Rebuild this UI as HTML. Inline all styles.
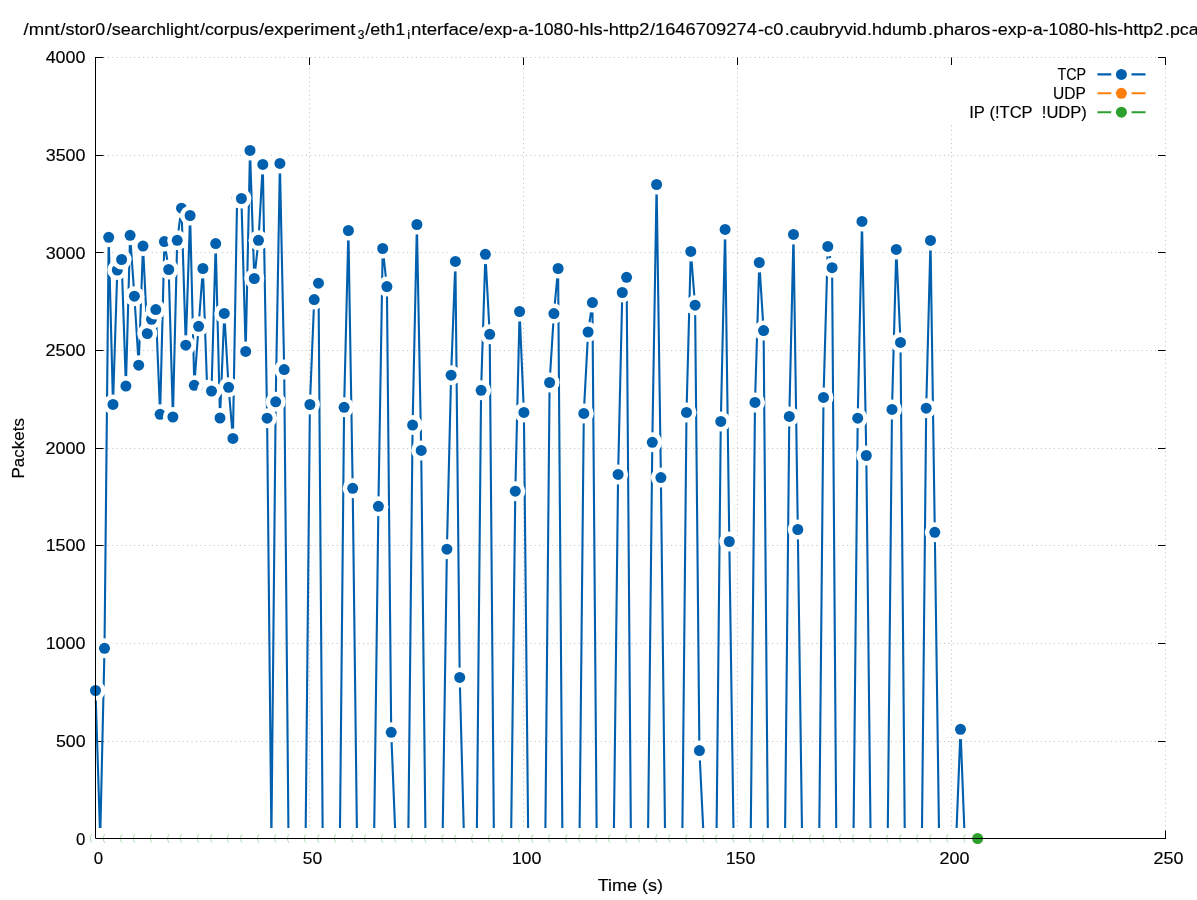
<!DOCTYPE html>
<html><head><meta charset="utf-8"><title>plot</title>
<style>html,body{margin:0;padding:0;background:#fff}svg{display:block;will-change:transform}text{font-family:"Liberation Sans",sans-serif;fill:#000;stroke:#000;stroke-width:0.15px}</style></head>
<body>
<svg width="1197" height="900" viewBox="0 0 1197 900">
<rect width="1197" height="900" fill="#fff"/>
<g stroke="#bcbcbc" stroke-width="1" stroke-dasharray="1 3.4" fill="none">
<path d="M103.5 741.5H1165.5"/><path d="M103.5 643.5H1165.5"/><path d="M103.5 545.5H1165.5"/><path d="M103.5 448.5H1165.5"/><path d="M103.5 350.5H1165.5"/><path d="M103.5 252.5H1165.5"/><path d="M103.5 155.5H1165.5"/><path d="M103.5 57.5H1165.5"/><path d="M309.5 830.5V57.5"/><path d="M523.5 830.5V57.5"/><path d="M737.5 830.5V57.5"/><path d="M951.5 830.5V57.5"/><path d="M1165.5 830.5V57.5"/>
</g>
<g stroke="#000" stroke-width="1" fill="none">
<path d="M95.5 838.5h8M1165.5 838.5h-7.5"/><path d="M95.5 741.5h8M1165.5 741.5h-7.5"/><path d="M95.5 643.5h8M1165.5 643.5h-7.5"/><path d="M95.5 545.5h8M1165.5 545.5h-7.5"/><path d="M95.5 448.5h8M1165.5 448.5h-7.5"/><path d="M95.5 350.5h8M1165.5 350.5h-7.5"/><path d="M95.5 252.5h8M1165.5 252.5h-7.5"/><path d="M95.5 155.5h8M1165.5 155.5h-7.5"/><path d="M95.5 57.5h8M1165.5 57.5h-7.5"/><path d="M95.5 838.5v-8M95.5 57.5v7.5"/><path d="M309.5 838.5v-8M309.5 57.5v7.5"/><path d="M523.5 838.5v-8M523.5 57.5v7.5"/><path d="M737.5 838.5v-8M737.5 57.5v7.5"/><path d="M951.5 838.5v-8M951.5 57.5v7.5"/><path d="M1165.5 838.5v-8M1165.5 57.5v7.5"/>
</g>
<polyline fill="none" stroke="#0060ad" stroke-width="2.10" stroke-linejoin="miter" stroke-miterlimit="2" points="95.5,690.5 100.2,838.5 104.5,648.3 108.7,237.3 113.0,404.4 117.3,270.0 121.6,259.5 125.9,386.1 130.1,235.3 134.4,296.2 138.7,365.2 143.0,246.1 147.3,333.5 151.5,319.3 155.8,309.6 160.1,414.3 164.4,241.6 168.7,269.5 172.9,417.0 177.2,240.3 181.5,208.2 185.8,345.2 190.1,215.5 194.3,385.3 198.6,326.3 202.9,268.5 207.2,389.8 211.5,391.1 215.7,243.6 220.0,418.0 224.3,313.4 228.6,387.3 232.9,438.4 237.1,198.0 241.4,198.5 245.7,351.4 250.0,150.4 254.3,278.5 258.5,240.3 262.8,164.4 267.1,418.2 271.4,838.5 275.7,401.8 279.9,163.4 284.2,369.6 288.5,838.5 292.8,838.5 297.1,838.5 301.3,838.5 305.6,838.5 309.9,404.5 314.2,299.6 318.5,283.2 322.7,838.5 327.0,838.5 331.3,838.5 335.6,838.5 339.9,838.5 344.1,407.3 348.4,230.5 352.7,488.3 357.0,838.5 361.3,838.5 365.5,838.5 369.8,838.5 374.1,838.5 378.4,506.3 382.7,248.5 386.9,286.6 391.2,732.3 395.5,838.5 399.8,838.5 404.1,838.5 408.3,838.5 412.6,425.1 416.9,224.5 421.2,450.4 425.5,838.5 429.7,838.5 434.0,838.5 438.3,838.5 442.6,838.5 446.9,549.2 451.1,375.2 455.4,261.4 459.7,677.4 464.0,838.5 468.3,838.5 472.5,838.5 476.8,838.5 481.1,390.3 485.4,254.3 489.7,334.3 493.9,838.5 498.2,838.5 502.5,838.5 506.8,838.5 511.1,838.5 515.3,491.2 519.6,311.5 523.9,412.4 528.2,838.5 532.5,838.5 536.7,838.5 541.0,838.5 545.3,838.5 549.6,382.5 553.9,313.6 558.1,268.5 562.4,838.5 566.7,838.5 571.0,838.5 575.3,838.5 579.5,838.5 583.8,413.4 588.1,332.0 592.4,302.6 596.7,838.5 600.9,838.5 605.2,838.5 609.5,838.5 613.8,838.5 618.1,474.4 622.3,292.5 626.6,277.3 630.9,838.5 635.2,838.5 639.5,838.5 643.7,838.5 648.0,838.5 652.3,442.3 656.6,184.5 660.9,477.6 665.1,838.5 669.4,838.5 673.7,838.5 678.0,838.5 682.3,838.5 686.5,412.4 690.8,251.4 695.1,305.2 699.4,750.6 703.7,838.5 707.9,838.5 712.2,838.5 716.5,838.5 720.8,421.4 725.1,229.4 729.3,541.5 733.6,838.5 737.9,838.5 742.2,838.5 746.5,838.5 750.7,838.5 755.0,402.4 759.3,262.5 763.6,330.6 767.9,838.5 772.1,838.5 776.4,838.5 780.7,838.5 785.0,838.5 789.3,416.4 793.5,234.4 797.8,529.5 802.1,838.5 806.4,838.5 810.7,838.5 814.9,838.5 819.2,838.5 823.5,397.4 827.8,246.4 832.1,267.7 836.3,838.5 840.6,838.5 844.9,838.5 849.2,838.5 853.5,838.5 857.7,418.2 862.0,221.4 866.3,455.5 870.6,838.5 874.9,838.5 879.1,838.5 883.4,838.5 887.7,838.5 892.0,409.4 896.3,249.4 900.5,342.4 904.8,838.5 909.1,838.5 913.4,838.5 917.7,838.5 921.9,838.5 926.2,408.2 930.5,240.4 934.8,532.3 939.1,838.5 943.3,838.5 947.6,838.5 951.9,838.5 956.2,838.5 960.5,729.3 964.7,838.5 969.0,838.5 973.3,838.5 977.6,838.5"/>
<g>
<circle cx="95.5" cy="690.5" r="10.0" fill="#fff"/><circle cx="95.5" cy="690.5" r="5.50" fill="#0060ad"/>
<circle cx="104.5" cy="648.3" r="10.0" fill="#fff"/><circle cx="104.5" cy="648.3" r="5.50" fill="#0060ad"/>
<circle cx="108.7" cy="237.3" r="10.0" fill="#fff"/><circle cx="108.7" cy="237.3" r="5.50" fill="#0060ad"/>
<circle cx="113.0" cy="404.4" r="10.0" fill="#fff"/><circle cx="113.0" cy="404.4" r="5.50" fill="#0060ad"/>
<circle cx="117.3" cy="270.0" r="10.0" fill="#fff"/><circle cx="117.3" cy="270.0" r="5.50" fill="#0060ad"/>
<circle cx="121.6" cy="259.5" r="10.0" fill="#fff"/><circle cx="121.6" cy="259.5" r="5.50" fill="#0060ad"/>
<circle cx="125.9" cy="386.1" r="10.0" fill="#fff"/><circle cx="125.9" cy="386.1" r="5.50" fill="#0060ad"/>
<circle cx="130.1" cy="235.3" r="10.0" fill="#fff"/><circle cx="130.1" cy="235.3" r="5.50" fill="#0060ad"/>
<circle cx="134.4" cy="296.2" r="10.0" fill="#fff"/><circle cx="134.4" cy="296.2" r="5.50" fill="#0060ad"/>
<circle cx="138.7" cy="365.2" r="10.0" fill="#fff"/><circle cx="138.7" cy="365.2" r="5.50" fill="#0060ad"/>
<circle cx="143.0" cy="246.1" r="10.0" fill="#fff"/><circle cx="143.0" cy="246.1" r="5.50" fill="#0060ad"/>
<circle cx="147.3" cy="333.5" r="10.0" fill="#fff"/><circle cx="147.3" cy="333.5" r="5.50" fill="#0060ad"/>
<circle cx="151.5" cy="319.3" r="10.0" fill="#fff"/><circle cx="151.5" cy="319.3" r="5.50" fill="#0060ad"/>
<circle cx="155.8" cy="309.6" r="10.0" fill="#fff"/><circle cx="155.8" cy="309.6" r="5.50" fill="#0060ad"/>
<circle cx="160.1" cy="414.3" r="10.0" fill="#fff"/><circle cx="160.1" cy="414.3" r="5.50" fill="#0060ad"/>
<circle cx="164.4" cy="241.6" r="10.0" fill="#fff"/><circle cx="164.4" cy="241.6" r="5.50" fill="#0060ad"/>
<circle cx="168.7" cy="269.5" r="10.0" fill="#fff"/><circle cx="168.7" cy="269.5" r="5.50" fill="#0060ad"/>
<circle cx="172.9" cy="417.0" r="10.0" fill="#fff"/><circle cx="172.9" cy="417.0" r="5.50" fill="#0060ad"/>
<circle cx="177.2" cy="240.3" r="10.0" fill="#fff"/><circle cx="177.2" cy="240.3" r="5.50" fill="#0060ad"/>
<circle cx="181.5" cy="208.2" r="10.0" fill="#fff"/><circle cx="181.5" cy="208.2" r="5.50" fill="#0060ad"/>
<circle cx="185.8" cy="345.2" r="10.0" fill="#fff"/><circle cx="185.8" cy="345.2" r="5.50" fill="#0060ad"/>
<circle cx="190.1" cy="215.5" r="10.0" fill="#fff"/><circle cx="190.1" cy="215.5" r="5.50" fill="#0060ad"/>
<circle cx="194.3" cy="385.3" r="10.0" fill="#fff"/><circle cx="194.3" cy="385.3" r="5.50" fill="#0060ad"/>
<circle cx="198.6" cy="326.3" r="10.0" fill="#fff"/><circle cx="198.6" cy="326.3" r="5.50" fill="#0060ad"/>
<circle cx="202.9" cy="268.5" r="10.0" fill="#fff"/><circle cx="202.9" cy="268.5" r="5.50" fill="#0060ad"/>
<circle cx="207.2" cy="389.8" r="10.0" fill="#fff"/><circle cx="207.2" cy="389.8" r="5.50" fill="#0060ad"/>
<circle cx="211.5" cy="391.1" r="10.0" fill="#fff"/><circle cx="211.5" cy="391.1" r="5.50" fill="#0060ad"/>
<circle cx="215.7" cy="243.6" r="10.0" fill="#fff"/><circle cx="215.7" cy="243.6" r="5.50" fill="#0060ad"/>
<circle cx="220.0" cy="418.0" r="10.0" fill="#fff"/><circle cx="220.0" cy="418.0" r="5.50" fill="#0060ad"/>
<circle cx="224.3" cy="313.4" r="10.0" fill="#fff"/><circle cx="224.3" cy="313.4" r="5.50" fill="#0060ad"/>
<circle cx="228.6" cy="387.3" r="10.0" fill="#fff"/><circle cx="228.6" cy="387.3" r="5.50" fill="#0060ad"/>
<circle cx="232.9" cy="438.4" r="10.0" fill="#fff"/><circle cx="232.9" cy="438.4" r="5.50" fill="#0060ad"/>
<circle cx="237.1" cy="198.0" r="10.0" fill="#fff"/><circle cx="237.1" cy="198.0" r="5.50" fill="#0060ad"/>
<circle cx="241.4" cy="198.5" r="10.0" fill="#fff"/><circle cx="241.4" cy="198.5" r="5.50" fill="#0060ad"/>
<circle cx="245.7" cy="351.4" r="10.0" fill="#fff"/><circle cx="245.7" cy="351.4" r="5.50" fill="#0060ad"/>
<circle cx="250.0" cy="150.4" r="10.0" fill="#fff"/><circle cx="250.0" cy="150.4" r="5.50" fill="#0060ad"/>
<circle cx="254.3" cy="278.5" r="10.0" fill="#fff"/><circle cx="254.3" cy="278.5" r="5.50" fill="#0060ad"/>
<circle cx="258.5" cy="240.3" r="10.0" fill="#fff"/><circle cx="258.5" cy="240.3" r="5.50" fill="#0060ad"/>
<circle cx="262.8" cy="164.4" r="10.0" fill="#fff"/><circle cx="262.8" cy="164.4" r="5.50" fill="#0060ad"/>
<circle cx="267.1" cy="418.2" r="10.0" fill="#fff"/><circle cx="267.1" cy="418.2" r="5.50" fill="#0060ad"/>
<circle cx="275.7" cy="401.8" r="10.0" fill="#fff"/><circle cx="275.7" cy="401.8" r="5.50" fill="#0060ad"/>
<circle cx="279.9" cy="163.4" r="10.0" fill="#fff"/><circle cx="279.9" cy="163.4" r="5.50" fill="#0060ad"/>
<circle cx="284.2" cy="369.6" r="10.0" fill="#fff"/><circle cx="284.2" cy="369.6" r="5.50" fill="#0060ad"/>
<circle cx="309.9" cy="404.5" r="10.0" fill="#fff"/><circle cx="309.9" cy="404.5" r="5.50" fill="#0060ad"/>
<circle cx="314.2" cy="299.6" r="10.0" fill="#fff"/><circle cx="314.2" cy="299.6" r="5.50" fill="#0060ad"/>
<circle cx="318.5" cy="283.2" r="10.0" fill="#fff"/><circle cx="318.5" cy="283.2" r="5.50" fill="#0060ad"/>
<circle cx="344.1" cy="407.3" r="10.0" fill="#fff"/><circle cx="344.1" cy="407.3" r="5.50" fill="#0060ad"/>
<circle cx="348.4" cy="230.5" r="10.0" fill="#fff"/><circle cx="348.4" cy="230.5" r="5.50" fill="#0060ad"/>
<circle cx="352.7" cy="488.3" r="10.0" fill="#fff"/><circle cx="352.7" cy="488.3" r="5.50" fill="#0060ad"/>
<circle cx="378.4" cy="506.3" r="10.0" fill="#fff"/><circle cx="378.4" cy="506.3" r="5.50" fill="#0060ad"/>
<circle cx="382.7" cy="248.5" r="10.0" fill="#fff"/><circle cx="382.7" cy="248.5" r="5.50" fill="#0060ad"/>
<circle cx="386.9" cy="286.6" r="10.0" fill="#fff"/><circle cx="386.9" cy="286.6" r="5.50" fill="#0060ad"/>
<circle cx="391.2" cy="732.3" r="10.0" fill="#fff"/><circle cx="391.2" cy="732.3" r="5.50" fill="#0060ad"/>
<circle cx="412.6" cy="425.1" r="10.0" fill="#fff"/><circle cx="412.6" cy="425.1" r="5.50" fill="#0060ad"/>
<circle cx="416.9" cy="224.5" r="10.0" fill="#fff"/><circle cx="416.9" cy="224.5" r="5.50" fill="#0060ad"/>
<circle cx="421.2" cy="450.4" r="10.0" fill="#fff"/><circle cx="421.2" cy="450.4" r="5.50" fill="#0060ad"/>
<circle cx="446.9" cy="549.2" r="10.0" fill="#fff"/><circle cx="446.9" cy="549.2" r="5.50" fill="#0060ad"/>
<circle cx="451.1" cy="375.2" r="10.0" fill="#fff"/><circle cx="451.1" cy="375.2" r="5.50" fill="#0060ad"/>
<circle cx="455.4" cy="261.4" r="10.0" fill="#fff"/><circle cx="455.4" cy="261.4" r="5.50" fill="#0060ad"/>
<circle cx="459.7" cy="677.4" r="10.0" fill="#fff"/><circle cx="459.7" cy="677.4" r="5.50" fill="#0060ad"/>
<circle cx="481.1" cy="390.3" r="10.0" fill="#fff"/><circle cx="481.1" cy="390.3" r="5.50" fill="#0060ad"/>
<circle cx="485.4" cy="254.3" r="10.0" fill="#fff"/><circle cx="485.4" cy="254.3" r="5.50" fill="#0060ad"/>
<circle cx="489.7" cy="334.3" r="10.0" fill="#fff"/><circle cx="489.7" cy="334.3" r="5.50" fill="#0060ad"/>
<circle cx="515.3" cy="491.2" r="10.0" fill="#fff"/><circle cx="515.3" cy="491.2" r="5.50" fill="#0060ad"/>
<circle cx="519.6" cy="311.5" r="10.0" fill="#fff"/><circle cx="519.6" cy="311.5" r="5.50" fill="#0060ad"/>
<circle cx="523.9" cy="412.4" r="10.0" fill="#fff"/><circle cx="523.9" cy="412.4" r="5.50" fill="#0060ad"/>
<circle cx="549.6" cy="382.5" r="10.0" fill="#fff"/><circle cx="549.6" cy="382.5" r="5.50" fill="#0060ad"/>
<circle cx="553.9" cy="313.6" r="10.0" fill="#fff"/><circle cx="553.9" cy="313.6" r="5.50" fill="#0060ad"/>
<circle cx="558.1" cy="268.5" r="10.0" fill="#fff"/><circle cx="558.1" cy="268.5" r="5.50" fill="#0060ad"/>
<circle cx="583.8" cy="413.4" r="10.0" fill="#fff"/><circle cx="583.8" cy="413.4" r="5.50" fill="#0060ad"/>
<circle cx="588.1" cy="332.0" r="10.0" fill="#fff"/><circle cx="588.1" cy="332.0" r="5.50" fill="#0060ad"/>
<circle cx="592.4" cy="302.6" r="10.0" fill="#fff"/><circle cx="592.4" cy="302.6" r="5.50" fill="#0060ad"/>
<circle cx="618.1" cy="474.4" r="10.0" fill="#fff"/><circle cx="618.1" cy="474.4" r="5.50" fill="#0060ad"/>
<circle cx="622.3" cy="292.5" r="10.0" fill="#fff"/><circle cx="622.3" cy="292.5" r="5.50" fill="#0060ad"/>
<circle cx="626.6" cy="277.3" r="10.0" fill="#fff"/><circle cx="626.6" cy="277.3" r="5.50" fill="#0060ad"/>
<circle cx="652.3" cy="442.3" r="10.0" fill="#fff"/><circle cx="652.3" cy="442.3" r="5.50" fill="#0060ad"/>
<circle cx="656.6" cy="184.5" r="10.0" fill="#fff"/><circle cx="656.6" cy="184.5" r="5.50" fill="#0060ad"/>
<circle cx="660.9" cy="477.6" r="10.0" fill="#fff"/><circle cx="660.9" cy="477.6" r="5.50" fill="#0060ad"/>
<circle cx="686.5" cy="412.4" r="10.0" fill="#fff"/><circle cx="686.5" cy="412.4" r="5.50" fill="#0060ad"/>
<circle cx="690.8" cy="251.4" r="10.0" fill="#fff"/><circle cx="690.8" cy="251.4" r="5.50" fill="#0060ad"/>
<circle cx="695.1" cy="305.2" r="10.0" fill="#fff"/><circle cx="695.1" cy="305.2" r="5.50" fill="#0060ad"/>
<circle cx="699.4" cy="750.6" r="10.0" fill="#fff"/><circle cx="699.4" cy="750.6" r="5.50" fill="#0060ad"/>
<circle cx="720.8" cy="421.4" r="10.0" fill="#fff"/><circle cx="720.8" cy="421.4" r="5.50" fill="#0060ad"/>
<circle cx="725.1" cy="229.4" r="10.0" fill="#fff"/><circle cx="725.1" cy="229.4" r="5.50" fill="#0060ad"/>
<circle cx="729.3" cy="541.5" r="10.0" fill="#fff"/><circle cx="729.3" cy="541.5" r="5.50" fill="#0060ad"/>
<circle cx="755.0" cy="402.4" r="10.0" fill="#fff"/><circle cx="755.0" cy="402.4" r="5.50" fill="#0060ad"/>
<circle cx="759.3" cy="262.5" r="10.0" fill="#fff"/><circle cx="759.3" cy="262.5" r="5.50" fill="#0060ad"/>
<circle cx="763.6" cy="330.6" r="10.0" fill="#fff"/><circle cx="763.6" cy="330.6" r="5.50" fill="#0060ad"/>
<circle cx="789.3" cy="416.4" r="10.0" fill="#fff"/><circle cx="789.3" cy="416.4" r="5.50" fill="#0060ad"/>
<circle cx="793.5" cy="234.4" r="10.0" fill="#fff"/><circle cx="793.5" cy="234.4" r="5.50" fill="#0060ad"/>
<circle cx="797.8" cy="529.5" r="10.0" fill="#fff"/><circle cx="797.8" cy="529.5" r="5.50" fill="#0060ad"/>
<circle cx="823.5" cy="397.4" r="10.0" fill="#fff"/><circle cx="823.5" cy="397.4" r="5.50" fill="#0060ad"/>
<circle cx="827.8" cy="246.4" r="10.0" fill="#fff"/><circle cx="827.8" cy="246.4" r="5.50" fill="#0060ad"/>
<circle cx="832.1" cy="267.7" r="10.0" fill="#fff"/><circle cx="832.1" cy="267.7" r="5.50" fill="#0060ad"/>
<circle cx="857.7" cy="418.2" r="10.0" fill="#fff"/><circle cx="857.7" cy="418.2" r="5.50" fill="#0060ad"/>
<circle cx="862.0" cy="221.4" r="10.0" fill="#fff"/><circle cx="862.0" cy="221.4" r="5.50" fill="#0060ad"/>
<circle cx="866.3" cy="455.5" r="10.0" fill="#fff"/><circle cx="866.3" cy="455.5" r="5.50" fill="#0060ad"/>
<circle cx="892.0" cy="409.4" r="10.0" fill="#fff"/><circle cx="892.0" cy="409.4" r="5.50" fill="#0060ad"/>
<circle cx="896.3" cy="249.4" r="10.0" fill="#fff"/><circle cx="896.3" cy="249.4" r="5.50" fill="#0060ad"/>
<circle cx="900.5" cy="342.4" r="10.0" fill="#fff"/><circle cx="900.5" cy="342.4" r="5.50" fill="#0060ad"/>
<circle cx="926.2" cy="408.2" r="10.0" fill="#fff"/><circle cx="926.2" cy="408.2" r="5.50" fill="#0060ad"/>
<circle cx="930.5" cy="240.4" r="10.0" fill="#fff"/><circle cx="930.5" cy="240.4" r="5.50" fill="#0060ad"/>
<circle cx="934.8" cy="532.3" r="10.0" fill="#fff"/><circle cx="934.8" cy="532.3" r="5.50" fill="#0060ad"/>
<circle cx="960.5" cy="729.3" r="10.0" fill="#fff"/><circle cx="960.5" cy="729.3" r="5.50" fill="#0060ad"/>
</g>
<path d="M95.5 828.1H977.6A10.4 10.4 0 0 1 977.6 848.9H95.5A10.4 10.4 0 0 1 95.5 828.1Z" fill="#fff"/>
<g fill="none" stroke="#2ca02c" stroke-opacity="0.5" stroke-width="0.8">
<path d="M91.9 834.3A7 7 0 0 0 91.9 842.7"/><path d="M104.8 834.3A7 7 0 0 0 104.8 842.7"/><path d="M122.0 834.3A7 7 0 0 0 122.0 842.7"/><path d="M134.9 834.3A7 7 0 0 0 134.9 842.7"/><path d="M151.9 834.3A7 7 0 0 0 151.9 842.7"/><path d="M169.1 834.3A7 7 0 0 0 169.1 842.7"/><path d="M181.7 834.3A7 7 0 0 0 181.7 842.7"/><path d="M198.9 834.3A7 7 0 0 0 198.9 842.7"/><path d="M212.1 834.3A7 7 0 0 0 212.1 842.7"/><path d="M228.9 834.3A7 7 0 0 0 228.9 842.7"/><path d="M242.1 834.3A7 7 0 0 0 242.1 842.7"/><path d="M259.0 834.3A7 7 0 0 0 259.0 842.7"/><path d="M276.1 834.3A7 7 0 0 0 276.1 842.7"/><path d="M289.0 834.3A7 7 0 0 0 289.0 842.7"/><path d="M305.9 834.3A7 7 0 0 0 305.9 842.7"/><path d="M319.1 834.3A7 7 0 0 0 319.1 842.7"/><path d="M335.9 834.3A7 7 0 0 0 335.9 842.7"/><path d="M353.2 834.3A7 7 0 0 0 353.2 842.7"/><path d="M366.0 834.3A7 7 0 0 0 366.0 842.7"/><path d="M382.9 834.3A7 7 0 0 0 382.9 842.7"/><path d="M396.1 834.3A7 7 0 0 0 396.1 842.7"/><path d="M412.9 834.3A7 7 0 0 0 412.9 842.7"/><path d="M426.2 834.3A7 7 0 0 0 426.2 842.7"/><path d="M443.4 834.3A7 7 0 0 0 443.4 842.7"/><path d="M456.2 834.3A7 7 0 0 0 456.2 842.7"/><path d="M473.1 834.3A7 7 0 0 0 473.1 842.7"/><path d="M489.9 834.3A7 7 0 0 0 489.9 842.7"/><path d="M503.0 834.3A7 7 0 0 0 503.0 842.7"/><path d="M519.9 834.3A7 7 0 0 0 519.9 842.7"/><path d="M533.1 834.3A7 7 0 0 0 533.1 842.7"/><path d="M550.1 834.3A7 7 0 0 0 550.1 842.7"/><path d="M567.1 834.3A7 7 0 0 0 567.1 842.7"/><path d="M580.2 834.3A7 7 0 0 0 580.2 842.7"/><path d="M597.2 834.3A7 7 0 0 0 597.2 842.7"/><path d="M610.0 834.3A7 7 0 0 0 610.0 842.7"/><path d="M627.1 834.3A7 7 0 0 0 627.1 842.7"/><path d="M640.1 834.3A7 7 0 0 0 640.1 842.7"/><path d="M657.2 834.3A7 7 0 0 0 657.2 842.7"/><path d="M670.2 834.3A7 7 0 0 0 670.2 842.7"/><path d="M687.2 834.3A7 7 0 0 0 687.2 842.7"/><path d="M704.3 834.3A7 7 0 0 0 704.3 842.7"/><path d="M717.1 834.3A7 7 0 0 0 717.1 842.7"/><path d="M734.2 834.3A7 7 0 0 0 734.2 842.7"/><path d="M751.0 834.3A7 7 0 0 0 751.0 842.7"/><path d="M763.9 834.3A7 7 0 0 0 763.9 842.7"/><path d="M780.9 834.3A7 7 0 0 0 780.9 842.7"/><path d="M793.9 834.3A7 7 0 0 0 793.9 842.7"/><path d="M811.0 834.3A7 7 0 0 0 811.0 842.7"/><path d="M824.2 834.3A7 7 0 0 0 824.2 842.7"/><path d="M841.0 834.3A7 7 0 0 0 841.0 842.7"/><path d="M854.1 834.3A7 7 0 0 0 854.1 842.7"/><path d="M871.1 834.3A7 7 0 0 0 871.1 842.7"/><path d="M888.2 834.3A7 7 0 0 0 888.2 842.7"/><path d="M901.2 834.3A7 7 0 0 0 901.2 842.7"/><path d="M918.2 834.3A7 7 0 0 0 918.2 842.7"/><path d="M931.3 834.3A7 7 0 0 0 931.3 842.7"/><path d="M948.1 834.3A7 7 0 0 0 948.1 842.7"/><path d="M965.4 834.3A7 7 0 0 0 965.4 842.7"/>
</g>
<circle cx="977.6" cy="838.5" r="5.50" fill="#2ca02c"/>
<rect x="916" y="65.5" width="241" height="56.5" fill="#fff"/>
<path d="M1097.4 74.4H1145.5" stroke="#0060ad" stroke-width="2.10"/><circle cx="1121.4" cy="74.4" r="10.2" fill="#fff"/><circle cx="1121.4" cy="74.4" r="5.50" fill="#0060ad"/>
<path d="M1097.4 93.3H1145.5" stroke="#ff7f0e" stroke-width="2.10"/><circle cx="1121.4" cy="93.3" r="10.2" fill="#fff"/><circle cx="1121.4" cy="93.3" r="5.50" fill="#ff7f0e"/>
<path d="M1097.4 112.2H1145.5" stroke="#2ca02c" stroke-width="2.10"/><circle cx="1121.4" cy="112.2" r="10.2" fill="#fff"/><circle cx="1121.4" cy="112.2" r="5.50" fill="#2ca02c"/>
<path d="M95.5 57.0V838.5H1166.0" stroke="#000" stroke-width="1" fill="none"/>
<text x="76.14" y="844.5" font-size="16.8" textLength="9.36" lengthAdjust="spacingAndGlyphs">0</text>
<text x="55.90" y="746.6" font-size="16.8" textLength="29.72" lengthAdjust="spacingAndGlyphs">500</text>
<text x="45.65" y="649.2" font-size="16.8" textLength="39.89" lengthAdjust="spacingAndGlyphs">1000</text>
<text x="45.65" y="551.2" font-size="16.8" textLength="39.89" lengthAdjust="spacingAndGlyphs">1500</text>
<text x="45.45" y="453.8" font-size="16.8" textLength="40.09" lengthAdjust="spacingAndGlyphs">2000</text>
<text x="45.45" y="356.2" font-size="16.8" textLength="40.09" lengthAdjust="spacingAndGlyphs">2500</text>
<text x="45.71" y="258.7" font-size="16.8" textLength="39.82" lengthAdjust="spacingAndGlyphs">3000</text>
<text x="45.71" y="160.7" font-size="16.8" textLength="39.82" lengthAdjust="spacingAndGlyphs">3500</text>
<text x="45.67" y="62.7" font-size="16.8" textLength="39.86" lengthAdjust="spacingAndGlyphs">4000</text>
<text x="93.78" y="863.9" font-size="16.8" textLength="9.36" lengthAdjust="spacingAndGlyphs">0</text>
<text x="302.82" y="863.9" font-size="16.8" textLength="19.43" lengthAdjust="spacingAndGlyphs">50</text>
<text x="511.65" y="863.9" font-size="16.8" textLength="29.79" lengthAdjust="spacingAndGlyphs">100</text>
<text x="725.65" y="863.9" font-size="16.8" textLength="29.79" lengthAdjust="spacingAndGlyphs">150</text>
<text x="939.45" y="863.9" font-size="16.8" textLength="29.99" lengthAdjust="spacingAndGlyphs">200</text>
<text x="1153.45" y="863.9" font-size="16.8" textLength="29.99" lengthAdjust="spacingAndGlyphs">250</text>
<text x="597.73" y="891.2" font-size="16.8" textLength="65.27" lengthAdjust="spacingAndGlyphs">Time&#160;(s)</text>
<text transform="translate(24.0 448.3) rotate(-90)" x="-30.18" y="0" font-size="16.8" textLength="60.39" lengthAdjust="spacingAndGlyphs">Packets</text>
<text x="1057.41" y="80.0" font-size="16.8" textLength="28.60" lengthAdjust="spacingAndGlyphs">TCP</text>
<text x="1053.04" y="98.8" font-size="16.8" textLength="32.76" lengthAdjust="spacingAndGlyphs">UDP</text>
<text x="969.20" y="117.5" font-size="16.8" textLength="117.68" lengthAdjust="spacingAndGlyphs">IP&#160;(!TCP&#160;&#160;!UDP)</text>
<text x="23.60" y="34.8" font-size="16.8" textLength="35.98" lengthAdjust="spacingAndGlyphs">/mnt</text>
<text x="60.50" y="34.8" font-size="16.8" textLength="44.64" lengthAdjust="spacingAndGlyphs">/stor0</text>
<text x="106.80" y="34.8" font-size="16.8" textLength="92.26" lengthAdjust="spacingAndGlyphs">/searchlight</text>
<text x="200.00" y="34.8" font-size="16.8" textLength="58.41" lengthAdjust="spacingAndGlyphs">/corpus</text>
<text x="258.90" y="34.8" font-size="16.8" textLength="96.58" lengthAdjust="spacingAndGlyphs">/experiment</text>
<text x="357.72" y="38.7" font-size="13.4" textLength="6.67" lengthAdjust="spacingAndGlyphs">3</text>
<text x="365.30" y="34.8" font-size="16.8" textLength="39.99" lengthAdjust="spacingAndGlyphs">/eth1</text>
<text x="407.13" y="38.7" font-size="13.4" textLength="2.96" lengthAdjust="spacingAndGlyphs">i</text>
<text x="411.09" y="34.8" font-size="16.8" textLength="67.42" lengthAdjust="spacingAndGlyphs">nterface</text>
<text x="479.00" y="34.8" font-size="16.8" textLength="100.10" lengthAdjust="spacingAndGlyphs">/exp-a-1080-</text>
<text x="579.32" y="34.8" font-size="16.8" textLength="70.10" lengthAdjust="spacingAndGlyphs">hls-http2</text>
<text x="649.90" y="34.8" font-size="16.8" textLength="106.95" lengthAdjust="spacingAndGlyphs">/1646709274</text>
<text x="757.98" y="34.8" font-size="16.8" textLength="25.35" lengthAdjust="spacingAndGlyphs">-c0</text>
<text x="784.68" y="34.8" font-size="16.8" textLength="82.15" lengthAdjust="spacingAndGlyphs">.caubryvid</text>
<text x="867.09" y="34.8" font-size="16.8" textLength="59.53" lengthAdjust="spacingAndGlyphs">.hdumb</text>
<text x="928.12" y="34.8" font-size="16.8" textLength="62.35" lengthAdjust="spacingAndGlyphs">.pharos</text>
<text x="991.79" y="34.8" font-size="16.8" textLength="171.42" lengthAdjust="spacingAndGlyphs">-exp-a-1080-hls-http2</text>
<text x="1165.00" y="34.8" font-size="16.8" textLength="43.43" lengthAdjust="spacingAndGlyphs">.pcap</text>
</svg>
</body></html>
